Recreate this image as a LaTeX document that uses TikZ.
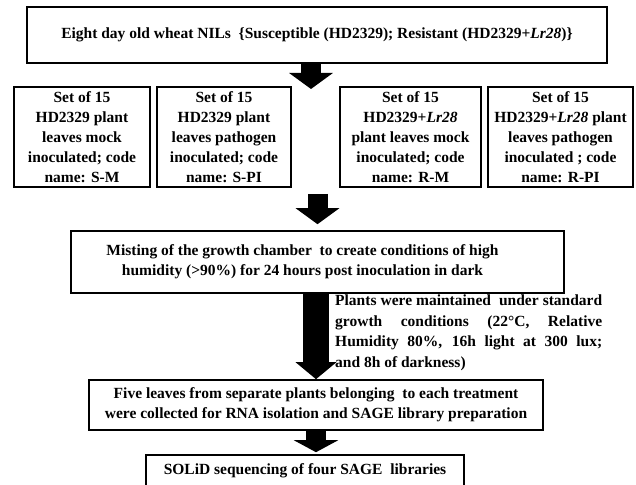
\documentclass[tikz,border=0pt]{standalone}
\usepackage{fontspec}
\setmainfont{Liberation Serif}
\usetikzlibrary{arrows.meta}

\tikzset{
	box/.style={draw, line width=1.6pt, align=center, inner sep=0pt,
		font=\bfseries\fontsize{15.5}{20}\selectfont},
	fat/.style={line width=20pt, -{Triangle[width=43pt,length=16pt]}},
}

\begin{document}
\begin{tikzpicture}[x=1pt,y=-1pt]
	\useasboundingbox (0,0) rectangle (636,484);

	\node[box, minimum width=580pt, minimum height=56pt] (nils) at (317,35)
		{Eight day old wheat NILs \ \{Susceptible (HD2329); Resistant (HD2329+\textit{Lr28})\}};

	\node[box, minimum width=136pt, minimum height=100pt] (sm) at (82,137)
		{Set of 15\\HD2329 plant\\leaves mock\\inoculated; code\\name: S-M};
	\node[box, minimum width=134pt, minimum height=100pt] (spi) at (224,137)
		{Set of 15\\HD2329 plant\\leaves pathogen\\inoculated; code\\name: S-PI};
	\node[box, minimum width=141pt, minimum height=100pt] (rm) at (410.5,137)
		{Set of 15\\HD2329+\textit{Lr28}\\plant leaves mock\\inoculated; code\\name: R-M};
	\node[box, minimum width=145pt, minimum height=100pt] (rpi) at (560.5,137)
		{Set of 15\\HD2329+\textit{Lr28} plant\\leaves pathogen\\inoculated ; code\\name: R-PI};

	\node[box, minimum width=493pt, minimum height=62pt] (mist) at (317.5,262)
		{Misting of the growth chamber \ to create conditions of high\hspace*{30pt}\\humidity (>90\%) for 24 hours post inoculation in dark\hspace*{30pt}};

	\node[anchor=north west, inner sep=0pt, text width=267pt, align=justify,
		font=\bfseries\fontsize{15.5}{20.5}\selectfont] (cond) at (335,295)
		{Plants were maintained \ under standard\linebreak
		growth conditions (22°C, Relative\linebreak
		Humidity 80\%, 16h light at 300 lux;\linebreak
		and 8h of darkness)};

	\node[box, minimum width=454pt, minimum height=50pt] (five) at (316,405)
		{Five leaves from separate plants belonging \ to each treatment\\were collected for RNA isolation and SAGE library preparation};

	\node[box, minimum width=318pt, minimum height=32pt] (solid) at (305,471)
		{SOLiD sequencing of four SAGE \ libraries};

	% block arrows
	\coordinate (a1) at (311,89);
	\draw[fat] ([xshift=-6pt]nils.south) -- (a1);
	\draw[fat, shorten <=6pt, shorten >=6pt] (spi.south -| mist.north) -- (mist.north);
	\draw[line width=26pt, -{Triangle[width=40pt,length=17pt]}]
		(mist.south -| five.north) -- (five.north);
	\draw[fat, -{Triangle[width=44pt,length=12pt]}, shorten >=2pt]
		(five.south) -- (five.south |- solid.north);

\end{tikzpicture}
\end{document}
